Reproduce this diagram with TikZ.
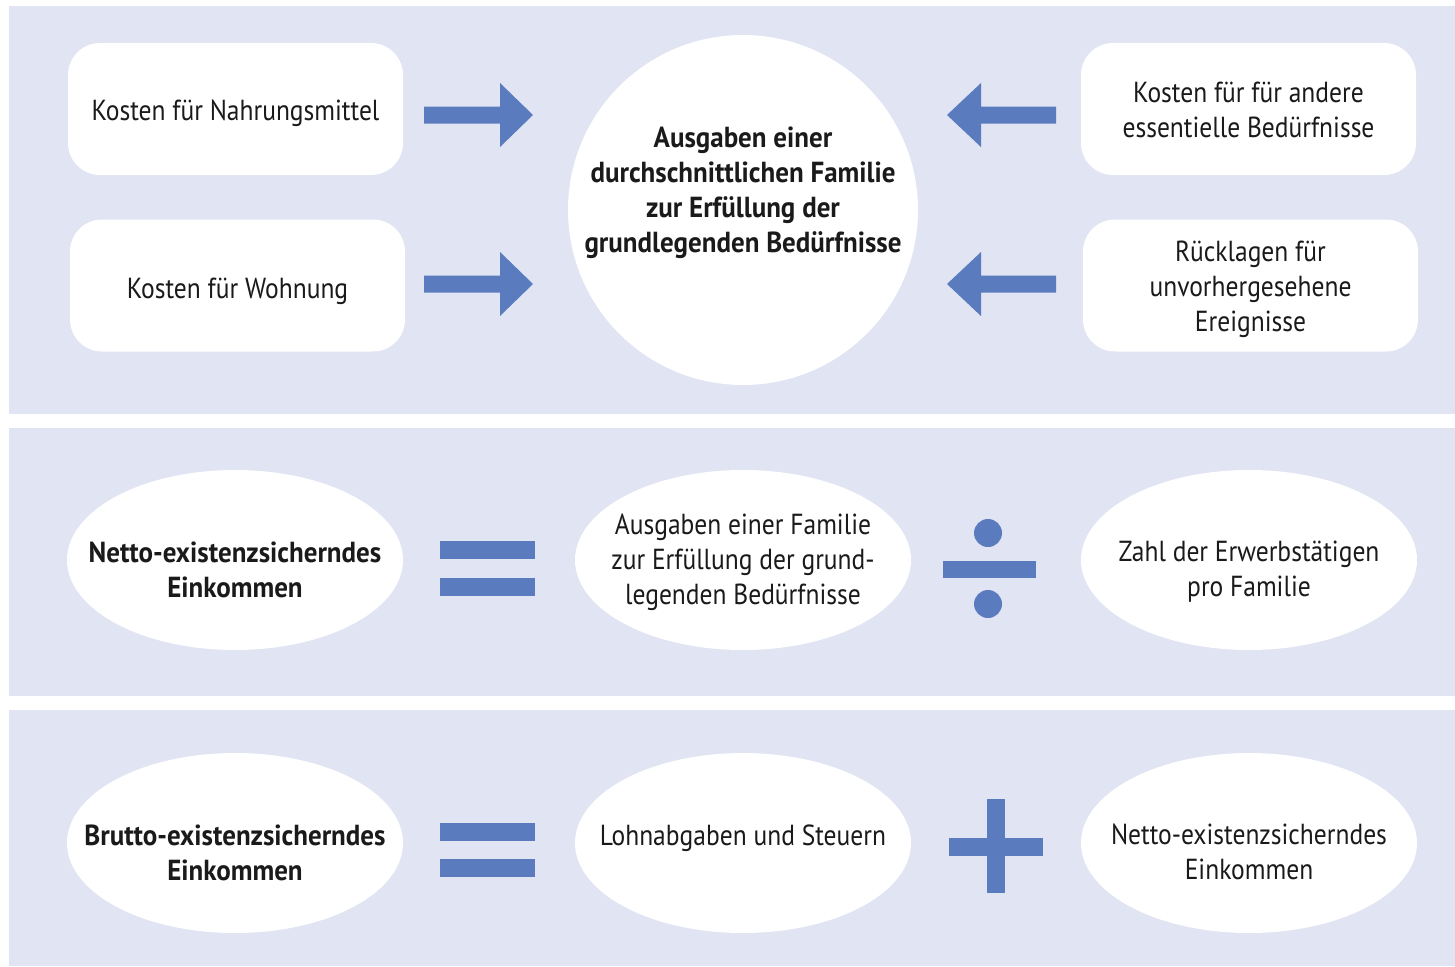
\documentclass[tikz,border=0pt]{standalone}
\usepackage{fontspec}
\setmainfont{PT Sans}[FakeStretch=0.88, BoldFeatures={FakeStretch=0.93}]
\usepackage{tikz}
\usetikzlibrary{positioning, shapes.geometric}

\definecolor{panelbg}{HTML}{E0E4F3}
\definecolor{symblue}{HTML}{5A7BBE}
\definecolor{txtdark}{HTML}{1A1A1A}

\tikzset{
  box/.style={fill=white, rounded corners=32pt, minimum width=335pt, minimum height=132pt, inner sep=0pt},
  oval/.style={ellipse, fill=white, minimum width=336pt, minimum height=180pt, inner sep=0pt},
  bigcircle/.style={circle, fill=white, minimum size=350pt, inner sep=0pt},
  txt/.style={align=center, text=txtdark, font=\fontsize{29}{35}\selectfont},
  boldtxt/.style={txt, font=\fontsize{29}{35}\selectfont\bfseries},
}

\begin{document}
\begin{tikzpicture}[x=1pt, y=-1pt]
    % Background and the three panels
    \fill[white] (0,0) rectangle (1455,966);
    \fill[panelbg] (9,6) rectangle (1455,414);
    \fill[panelbg] (9,428) rectangle (1455,696);
    \fill[panelbg] (9,710) rectangle (1455,966);

    % Top panel: costs feeding into the family expenses
    \node[box] (nahrung) at (235.5,109) {};
    \node[box] (wohnung) at (237.5,285.5) {};
    \node[box] (andere) at (1248.5,109) {};
    \node[box] (ruecklagen) at (1250.5,285.5) {};
    \node[bigcircle] (ausgaben) at (743,210) {};

    \node[txt] (nahrungtxt) at ([yshift=-4pt]nahrung.center) {Kosten für Nahrungsmittel};
    \node[txt] (wohnungtxt) at ([yshift=-6pt]wohnung.center) {Kosten für Wohnung};
    \node[txt] (anderetxt) at ([yshift=-1pt]andere.center) {Kosten für für andere\\essentielle Bedürfnisse};
    \node[txt] (ruecklagentxt) at ([yshift=-4pt]ruecklagen.center) {Rücklagen für\\unvorhergesehene\\Ereignisse};
    \node[boldtxt] (ausgabentxt) at ([yshift=17pt]ausgaben.center) {Ausgaben einer\\durchschnittlichen Familie\\zur Erfüllung der\\grundlegenden Bedürfnisse};

    % Block arrows towards the circle
    \foreach \y in {115,284} {
      \fill[symblue] (424,\y-8.5) -- (500,\y-8.5) -- (500,\y-32) -- (533,\y)
        -- (500,\y+32) -- (500,\y+8.5) -- (424,\y+8.5) -- cycle;
      \fill[symblue] (1056,\y-8.5) -- (981,\y-8.5) -- (981,\y-32) -- (947,\y)
        -- (981,\y+32) -- (981,\y+8.5) -- (1056,\y+8.5) -- cycle;
    }

    % Middle panel: net income
    \node[oval] (nettoL) at (235,560) {};
    \node[oval] (familie) at (743,560) {};
    \node[oval] (zahl) at (1249,560) {};

    \node[boldtxt] (nettoLtxt) at ([yshift=-10pt]nettoL.center) {Netto-existenzsicherndes\\Einkommen};
    \node[txt] (familietxt) at ([yshift=-2pt]familie.center) {Ausgaben einer Familie\\zur Erfüllung der grund-\\legenden Bedürfnisse};
    \node[txt] (zahltxt) at ([yshift=-12pt]zahl.center) {Zahl der Erwerbstätigen\\pro Familie};

    % equals and division signs
    \fill[symblue] (440,541) rectangle (535,559);
    \fill[symblue] (440,578) rectangle (535,596);
    \fill[symblue] (943,561) rectangle (1036,578);
    \fill[symblue] (988,533) circle (14pt);
    \fill[symblue] (988,604) circle (14pt);

    % Bottom panel: gross income
    \node[oval] (brutto) at (235,843) {};
    \node[oval] (lohn) at (743,843) {};
    \node[oval] (nettoR) at (1249,843) {};

    \node[boldtxt] (bruttotxt) at ([yshift=-10pt]brutto.center) {Brutto-existenzsicherndes\\Einkommen};
    \node[txt] (lohntxt) at ([yshift=5pt]lohn.center) {Lohnabgaben und Steuern};
    \node[txt] (nettoRtxt) at ([yshift=-9pt]nettoR.center) {Netto-existenzsicherndes\\Einkommen};

    % equals and plus signs
    \fill[symblue] (440,823) rectangle (535,841);
    \fill[symblue] (440,859) rectangle (535,877);
    \fill[symblue] (987,799) rectangle (1005,893);
    \fill[symblue] (949,838) rectangle (1043,856);
\end{tikzpicture}
\end{document}
